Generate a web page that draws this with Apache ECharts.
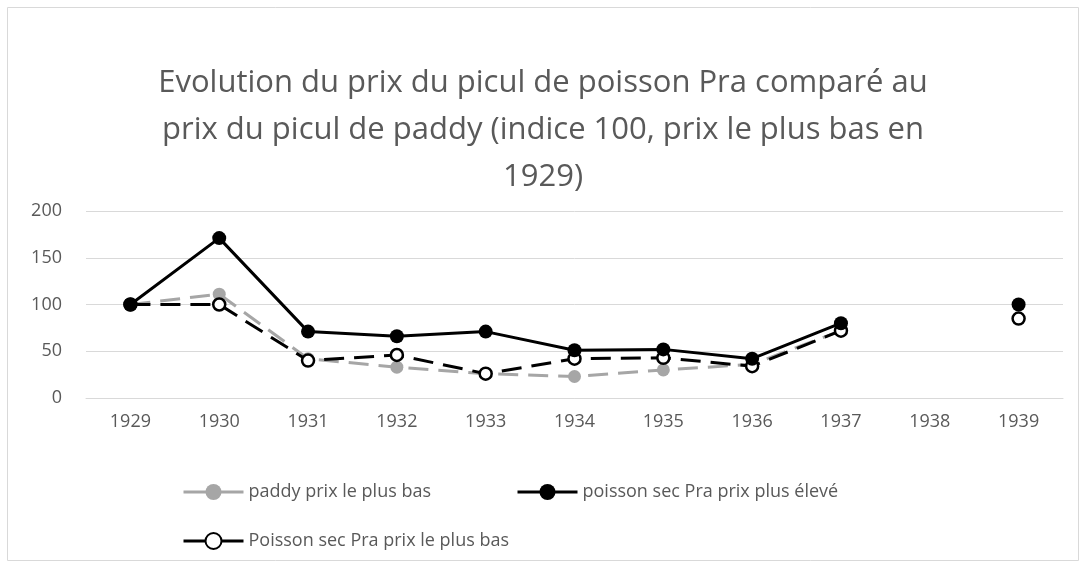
<!DOCTYPE html>
<html>
<head>
<meta charset="utf-8">
<script src="https://cdn.jsdelivr.net/npm/echarts@6/dist/echarts.min.js"></script>
<style>
  html, body { margin: 0; padding: 0; background: #fff; }
  #chart { width: 1086px; height: 568px; }
</style>
</head>
<body>
<div id="chart"></div>
<script>
// years on the x axis
var years = ['1929', '1930', '1931', '1932', '1933', '1934', '1935', '1936', '1937', '1938', '1939'];
// index values (null = no data)
var paddyBas = [100, 111, 42, 33, 26, 23, 30, 36, 72, null, null];
var poissonEleve = [100, 171, 71, 66, 71, 51, 52, 42, 80, null, 100];
var poissonBas = [100, 100, 40, 46, 26, 42, 43, 34, 72, null, 85];

var seriesNames = ['paddy prix le plus bas', 'poisson sec Pra prix plus élevé', 'Poisson sec Pra prix le plus bas'];

var chartDom = document.getElementById('chart');
var myChart = echarts.init(chartDom);
var font = 'Open Sans, Noto Sans, sans-serif';
var option;

option = {
  animation: false,
  title: {
    text: 'Evolution du prix du picul de poisson Pra comparé au\nprix du picul de paddy (indice 100, prix le plus bas en\n1929)',
    left: 'center',
    top: 55,
    textStyle: {
      fontFamily: font,
      fontSize: 31,
      fontWeight: 'normal',
      color: '#595959',
      lineHeight: 47,
      align: 'center'
    }
  },
  graphic: [{
    type: 'rect',
    shape: { x: 7.5, y: 7.5, width: 1071, height: 553 },
    style: { fill: 'none', stroke: '#d9d9d9', lineWidth: 1 },
    silent: true
  }],
  legend: [
    {
      data: [seriesNames[0]],
      left: 177, top: 478,
      itemWidth: 60, itemHeight: 20, itemGap: 8,
      textStyle: { fontFamily: font, fontSize: 18, color: '#595959' },
      lineStyle: { type: 'solid', width: 3 }
    },
    {
      data: [seriesNames[1]],
      left: 511, top: 478,
      itemWidth: 60, itemHeight: 20,
      textStyle: { fontFamily: font, fontSize: 18, color: '#595959' },
      lineStyle: { type: 'solid', width: 3 }
    },
    {
      data: [seriesNames[2]],
      left: 177, top: 527,
      itemWidth: 60, itemHeight: 20,
      textStyle: { fontFamily: font, fontSize: 18, color: '#595959' },
      lineStyle: { type: 'solid', width: 3 }
    }
  ],
  grid: {
    left: 86,
    right: 23,
    top: 211,
    bottom: 170
  },
  xAxis: {
    type: 'category',
    data: years,
    boundaryGap: true,
    axisLine: { lineStyle: { color: '#d9d9d9', width: 1 } },
    axisTick: { show: false },
    axisLabel: { fontFamily: font, fontSize: 18, color: '#595959', margin: 15 }
  },
  yAxis: {
    type: 'value',
    min: 0,
    max: 200,
    interval: 50,
    axisLine: { show: false },
    axisTick: { show: false },
    axisLabel: { fontFamily: font, fontSize: 18, color: '#595959', margin: 24 },
    splitLine: { lineStyle: { color: '#d9d9d9', width: 1 } }
  },
  series: [
    {
      name: seriesNames[0],
      type: 'line',
      data: paddyBas,
      z: 2,
      symbol: 'circle',
      symbolSize: 13,
      lineStyle: { color: '#a6a6a6', width: 3, type: [20, 10] },
      itemStyle: { color: '#a6a6a6', borderWidth: 0 }
    },
    {
      name: seriesNames[1],
      type: 'line',
      data: poissonEleve,
      z: 4,
      symbol: 'circle',
      symbolSize: 14,
      lineStyle: { color: '#000', width: 3, type: 'solid' },
      itemStyle: { color: '#000', borderWidth: 0 }
    },
    {
      name: seriesNames[2],
      type: 'line',
      data: poissonBas,
      z: 3,
      symbol: 'circle',
      symbolSize: 12,
      lineStyle: { color: '#000', width: 3, type: [20, 10] },
      itemStyle: { color: '#fff', borderColor: '#000', borderWidth: 2.5 }
    }
  ]
};
myChart.setOption(option);
</script>
</body>
</html>
